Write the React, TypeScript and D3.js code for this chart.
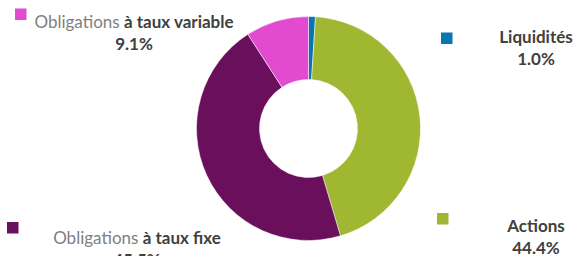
import React from 'react';
import * as d3 from 'd3';

const categories = ["Liquidités", "Actions", "Obligations à taux fixe", "Obligations à taux variable"];
const values = [1.0, 44.4, 45.5, 9.1];
const colors = ["#0A76AE", "#A0B732", "#6A0F5B", "#E24ACF"];

// label layout: [light part, bold part]
const labelParts = [["", "Liquidités"], ["", "Actions"], ["Obligations ", "à taux fixe"], ["Obligations ", "à taux variable"]];

const width = 574;
const height = 256;
const cx = 308.5;
const cy = 128.5;
const outerR = 112;
const innerR = 49;

// legend anchor: square pos and text center, baseline of first line
const legendPos = [
  {sx: 441, sy: 32.5, tx: 536, ty: 43},
  {sx: 437, sy: 213, tx: 536, ty: 232},
  {sx: 7, sy: 222, tx: 137, ty: 244},
  {sx: 15, sy: 8.5, tx: 134, ty: 28},
];

function App() {
  const pie = d3.pie<number>().sort(null).value(d => d);
  const arcs = pie(values);
  const arc = d3.arc<d3.PieArcDatum<number>>().innerRadius(innerR).outerRadius(outerR);

  return (
    <svg width={width} height={height} style={{position: 'absolute', left: 0, top: 0}}>
      <g transform={"translate(" + cx + "," + cy + ")"}>
        {arcs.map((a, i) => (
          <path key={i} d={arc(a) || ""} fill={colors[i]} stroke="#fff" strokeWidth={0.5} />
        ))}
      </g>
      {categories.map((c, i) => {
        const p = legendPos[i];
        return (
          <g key={c} fontFamily="Lato, 'Open Sans', sans-serif" fontSize={17}>
            <rect x={p.sx} y={p.sy} width={11.5} height={11.5} fill={colors[i]} />
            <text x={p.tx} y={p.ty} textAnchor="middle">
              {labelParts[i][0] && <tspan fill="#7f7f7f">{labelParts[i][0]}</tspan>}
              <tspan fill="#404040" fontWeight="bold">{labelParts[i][1]}</tspan>
            </text>
            <text x={p.tx} y={p.ty + 22} textAnchor="middle" fill="#404040" fontWeight="bold">
              {values[i].toFixed(1) + "%"}
            </text>
          </g>
        );
      })}
    </svg>
  );
}

export default App;
